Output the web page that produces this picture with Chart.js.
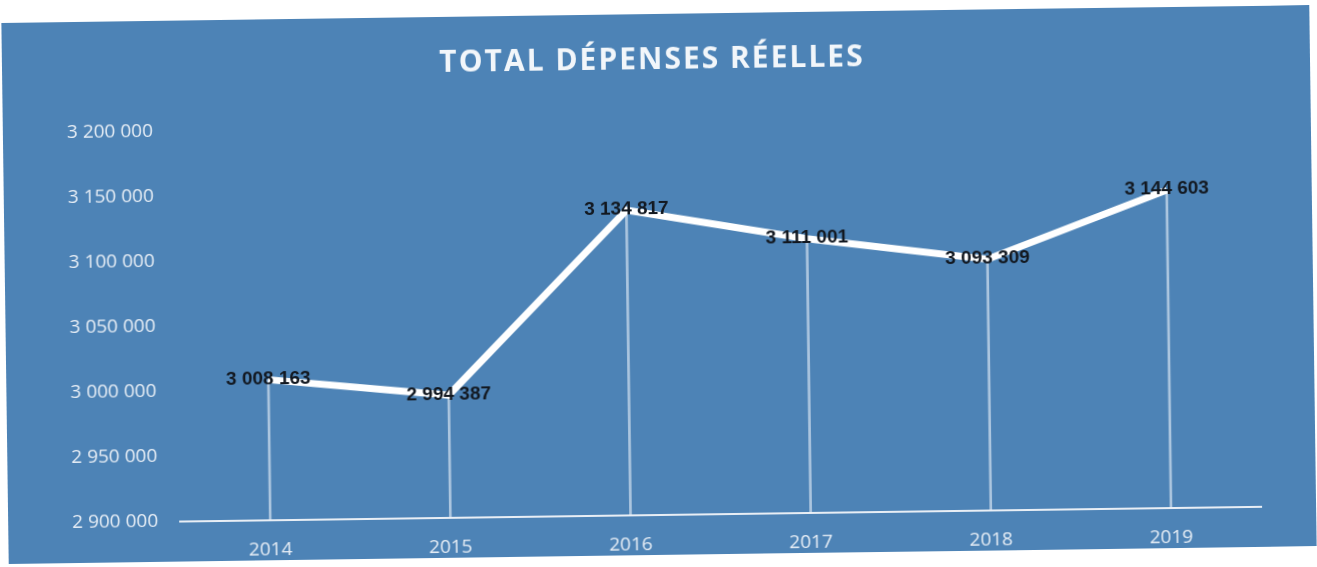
<!DOCTYPE html>
<html lang="fr">
<head>
    <meta charset="UTF-8">
    <title>Total dépenses réelles</title>
    <script src="https://cdn.jsdelivr.net/npm/chart.js"></script>
    <style>
        body { margin: 0; background: #fff; }
        #panel {
            position: absolute; left: 5px; top: 14px; width: 1308px; height: 541px;
            background: #4d83b6;
            transform: rotate(-0.78deg);
        }
    </style>
</head>
<body>
    <div id="panel"><canvas id="depChart"></canvas></div>

    <script>
        const years = ['2014', '2015', '2016', '2017', '2018', '2019'];
        const depenses = [3008163, 2994387, 3134817, 3111001, 3093309, 3144603];
        const chartTitle = 'TOTAL DÉPENSES RÉELLES';

        // 3 200 000 style
        function fmt(v) {
            return String(Math.round(v)).replace(/\B(?=(\d{3})+(?!\d))/g, ' ');
        }

        // title with letter spacing (the built-in title can't do that)
        const titlePlugin = {
            id: 'spacedTitle',
            afterDraw(chart) {
                const ctx = chart.ctx;
                ctx.save();
                ctx.font = 'bold 30px "Open Sans"';
                ctx.letterSpacing = '2px';
                ctx.fillStyle = '#f2f6fa';
                ctx.textAlign = 'center';
                ctx.textBaseline = 'middle';
                ctx.fillText(chartTitle, chart.width / 2 - 4, 46);
                ctx.restore();
            }
        };

        // value labels on the line points
        const labelPlugin = {
            id: 'valueLabels',
            afterDatasetsDraw(chart) {
                const meta = chart.getDatasetMeta(0);
                const ctx = chart.ctx;
                ctx.save();
                ctx.font = 'bold 19px "Liberation Sans"';
                ctx.fillStyle = '#121820';
                ctx.textAlign = 'center';
                ctx.textBaseline = 'middle';
                meta.data.forEach((pt, i) => {
                    ctx.fillText(fmt(depenses[i]), pt.x, pt.y - 1);
                });
                ctx.restore();
            }
        };

        new Chart(document.getElementById('depChart'), {
            type: 'bar',
            data: {
                labels: years,
                datasets: [
                    {
                        type: 'line',
                        data: depenses,
                        borderColor: '#ffffff',
                        borderWidth: 7,
                        pointRadius: 0,
                        tension: 0,
                        order: 0
                    },
                    {
                        // thin drop lines down to the axis
                        data: depenses,
                        backgroundColor: 'rgba(235,242,250,0.6)',
                        barThickness: 2,
                        order: 1
                    }
                ]
            },
            options: {
                responsive: true,
                maintainAspectRatio: false,
                animation: false,
                layout: { padding: { top: 111, right: 55, bottom: 0, left: 0 } },
                plugins: {
                    legend: { display: false },
                    tooltip: { enabled: false }
                },
                scales: {
                    x: {
                        grid: { display: false },
                        border: { display: true, color: '#e8eef5', width: 2 },
                        ticks: {
                            color: '#e6edf5',
                            font: { family: 'Open Sans', size: 19 },
                            padding: 10
                        },
                        afterFit(s) { s.height = 40; }
                    },
                    y: {
                        min: 2900000,
                        max: 3200000,
                        grid: { display: false },
                        border: { display: false },
                        ticks: {
                            stepSize: 50000,
                            color: '#e6edf5',
                            font: { family: 'Open Sans', size: 19 },
                            padding: 14,
                            callback: v => fmt(v)
                        },
                        afterFit(s) { s.width = 172; }
                    }
                }
            },
            plugins: [titlePlugin, labelPlugin]
        });
    </script>
</body>
</html>
